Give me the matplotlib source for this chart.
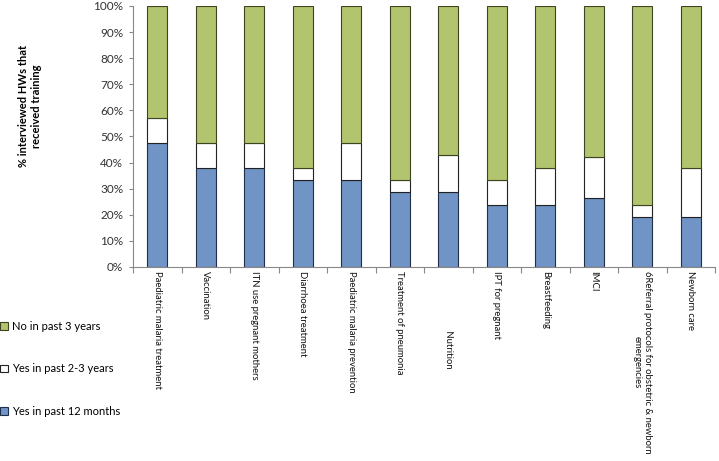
import matplotlib.pyplot as plt
import numpy as np

plt.rcParams['font.family'] = ['Lato', 'DejaVu Sans']

categories = ['Paediatric malaria treatment', 'Vaccination', 'ITN use pregnant mothers',
              'Diarrhoea treatment', 'Paediatric malaria prevention', 'Treatment of pneumonia',
              ' ' * 25 + 'Nutrition', 'IPT for pregnant', 'Breastfeeding', 'IMCI',
              '6Referral protocols for obstetric & newborn\nemergencies', 'Newborn care']
yes_12m = [47.6, 38.1, 38.1, 33.3, 33.3, 28.6, 28.6, 23.8, 23.8, 26.3, 19.0, 19.0]
yes_2_3y = [9.5, 9.5, 9.5, 4.8, 14.3, 4.8, 14.3, 9.5, 14.3, 15.8, 4.8, 19.0]
no_3y = [42.9, 52.4, 52.4, 61.9, 52.4, 66.7, 57.1, 66.7, 61.9, 57.9, 76.2, 61.9]

fig = plt.figure(figsize=(7.19, 4.61), dpi=100)
ax = fig.add_axes([0.185, 0.421, 0.8095, 0.566])

x = np.arange(len(categories))
w = 0.41
b1 = ax.bar(x, yes_12m, w, color='#7194c6', edgecolor='#1f2f4a', linewidth=0.8)
b2 = ax.bar(x, yes_2_3y, w, bottom=yes_12m, color='white', edgecolor='#222222', linewidth=0.8)
bottom2 = np.array(yes_12m) + np.array(yes_2_3y)
b3 = ax.bar(x, no_3y, w, bottom=bottom2, color='#b2c46d', edgecolor='#3d4520', linewidth=0.8)

ax.set_xlim(-0.5, len(categories) - 0.5)
ax.set_ylim(0, 100)
ax.set_yticks(range(0, 101, 10))
ax.set_yticklabels([f'{v}%' for v in range(0, 101, 10)], fontsize=8.5, color='#333333')
ax.set_xticks(np.arange(len(categories) + 1) - 0.5)
ax.set_xticklabels([])
ax.tick_params(axis='y', length=3, color='#888888', pad=4)
ax.tick_params(axis='x', length=4, color='#888888')
for s in ['top', 'right']:
    ax.spines[s].set_visible(False)
for s in ['left', 'bottom']:
    ax.spines[s].set_color('#888888')

for i, lab in enumerate(categories):
    ax.text(i, -1.5, lab, rotation=-90, ha='center', va='top', fontsize=6.85,
            color='#111111', multialignment='center')

fig.text(0.042, 0.77, '% interviewed HWs that\nreceived training', rotation=90,
         ha='center', va='center', fontsize=8, fontweight='bold', multialignment='center')

fig.legend([b3, b2, b1], ['No in past 3 years', 'Yes in past 2-3 years', 'Yes in past 12 months'],
           loc='center left', bbox_to_anchor=(0.0, 0.2), frameon=False, fontsize=8,
           handlelength=0.7, handleheight=0.7, handletextpad=0.4, labelspacing=2.85,
           borderpad=0, borderaxespad=0)

plt.savefig('out.png', dpi=100)
